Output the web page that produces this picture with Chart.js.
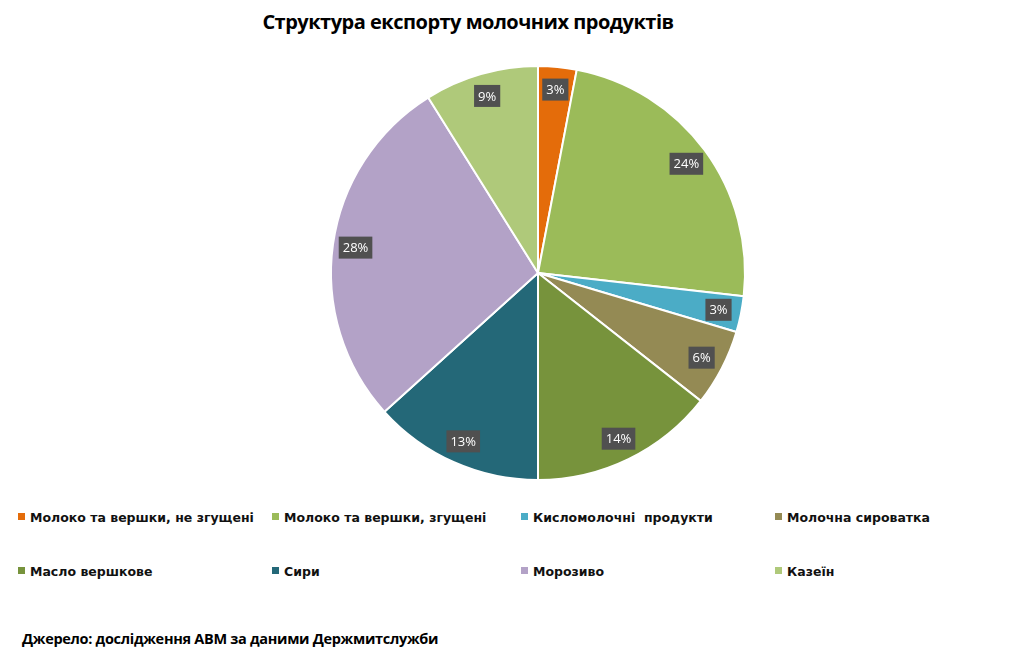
<!DOCTYPE html>
<html>
<head>
<meta charset="utf-8">
<script src="https://cdn.jsdelivr.net/npm/chart.js@4"></script>
<style>
  html, body { margin: 0; padding: 0; background: #fff; }
  body { width: 1021px; height: 657px; position: relative; overflow: hidden; }
  #title { position: absolute; top: 8px; left: 0; width: 936px; text-align: center;
    font: bold 20px "Open Sans", sans-serif; color: #000; letter-spacing: -0.5px; }
  #wrap { position: absolute; left: 0; top: 65px; width: 1076px; height: 416px; }
  #legend { position: absolute; left: 0; top: 0; }
  .item { position: absolute; font: bold 12.5px "DejaVu Sans", sans-serif; color: #111; white-space: pre; }
  .item span { display: inline-block; width: 7px; height: 7px; margin-right: 5px; vertical-align: 2px; }
  #source { position: absolute; left: 22px; top: 629px; font: bold 14.5px "Open Sans", sans-serif;
    color: #000; letter-spacing: -0.3px; }
</style>
</head>
<body>
<div id="title">Структура експорту молочних продуктів</div>
<div id="wrap"><canvas id="pie"></canvas></div>
<div id="legend"></div>
<div id="source">Джерело: дослідження АВМ за даними Держмитслужби</div>
<script>
const categories = [
  'Молоко та вершки, не згущені',
  'Молоко та вершки, згущені',
  'Кисломолочні  продукти',
  'Молочна сироватка',
  'Масло вершкове',
  'Сири',
  'Морозиво',
  'Казеїн'
];
const shares = [3.0, 23.8, 2.8, 6.0, 14.4, 13.3, 27.8, 8.9];
const colors = ['#E46C0A', '#9BBB59', '#4BACC6', '#948A54', '#77933C', '#246878', '#B3A2C7', '#AFC97A'];

// legend: 4 columns, 2 rows
const colX = [18, 272, 521, 775];
const rowY = [510, 564];
const legendEl = document.getElementById('legend');
categories.forEach((c, i) => {
  const d = document.createElement('div');
  d.className = 'item';
  d.style.left = colX[i % 4] + 'px';
  d.style.top = rowY[Math.floor(i / 4)] + 'px';
  d.innerHTML = '<span style="background:' + colors[i] + '"></span>' + c;
  legendEl.appendChild(d);
});

const labelBoxes = {
  id: 'labelBoxes',
  afterDatasetsDraw(chart) {
    const ctx = chart.ctx;
    const meta = chart.getDatasetMeta(0);
    const total = shares.reduce((a, b) => a + b, 0);
    ctx.save();
    ctx.font = '13px "Open Sans", sans-serif';
    ctx.textAlign = 'center';
    ctx.textBaseline = 'middle';
    meta.data.forEach((arc, i) => {
      const mid = (arc.startAngle + arc.endAngle) / 2;
      const r = arc.outerRadius * 0.89;
      const x = arc.x + Math.cos(mid) * r;
      const y = arc.y + Math.sin(mid) * r;
      const txt = Math.round(shares[i] / total * 100) + '%';
      const w = ctx.measureText(txt).width + 8;
      ctx.fillStyle = '#505050';
      ctx.fillRect(x - w / 2, y - 11, w, 22);
      ctx.fillStyle = '#fff';
      ctx.fillText(txt, x, y + 1);
    });
    ctx.restore();
  }
};

new Chart(document.getElementById('pie'), {
  type: 'pie',
  data: {
    labels: categories,
    datasets: [{
      data: shares,
      backgroundColor: colors,
      borderColor: '#fff',
      borderWidth: 2
    }]
  },
  options: {
    responsive: true,
    maintainAspectRatio: false,
    animation: false,
    layout: { padding: 0 },
    plugins: {
      legend: { display: false },
      tooltip: { enabled: false }
    }
  },
  plugins: [labelBoxes]
});
</script>
</body>
</html>
